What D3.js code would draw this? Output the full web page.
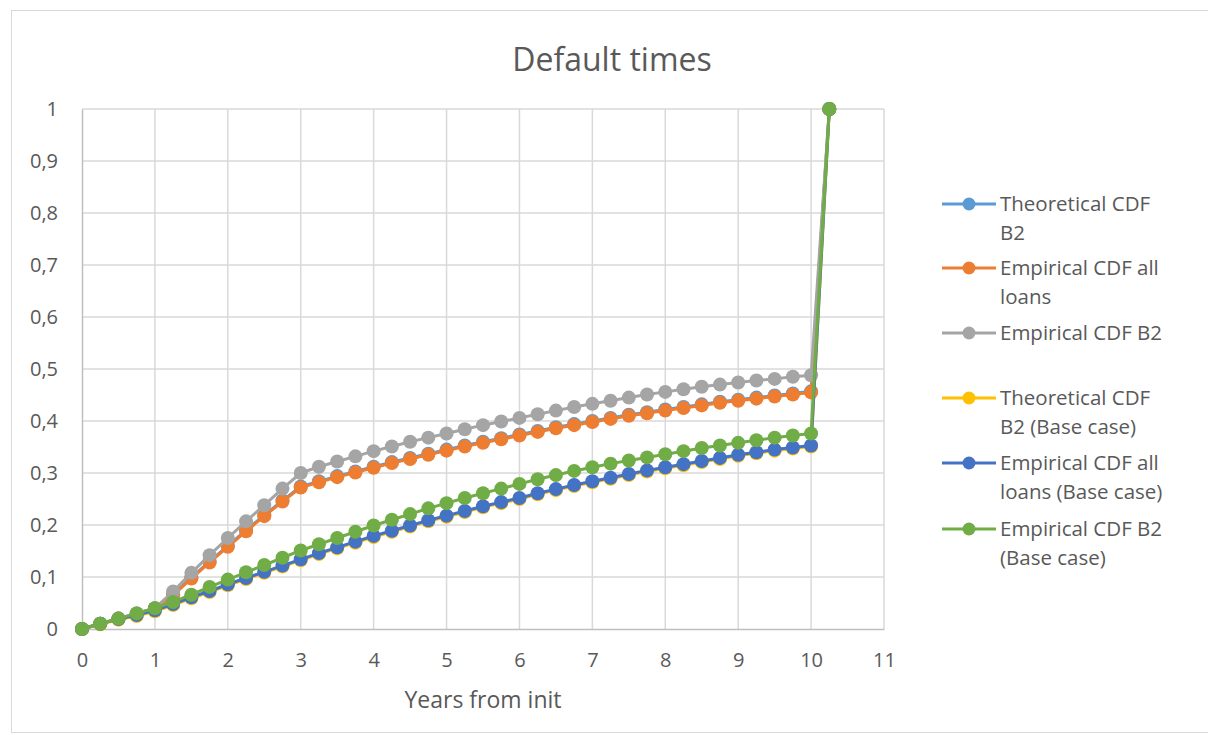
<!DOCTYPE html>
<html><head><meta charset="utf-8">
<script src="https://cdn.jsdelivr.net/npm/d3@7"></script>
<style>body{margin:0;background:#fff;}svg{display:block;font-family:"Open Sans",sans-serif;}</style>
</head><body>
<svg id="c" width="1208" height="735"></svg>
<script>
const years = [0,0.25,0.5,0.75,1,1.25,1.5,1.75,2,2.25,2.5,2.75,3,3.25,3.5,3.75,4,4.25,4.5,4.75,5,5.25,5.5,5.75,6,6.25,6.5,6.75,7,7.25,7.5,7.75,8,8.25,8.5,8.75,9,9.25,9.5,9.75,10,10.25];
const theoreticalB2 = [0,0.01,0.02,0.03,0.04,0.067,0.099,0.13,0.16,0.19,0.219,0.247,0.274,0.284,0.294,0.303,0.312,0.321,0.329,0.337,0.345,0.353,0.36,0.367,0.374,0.381,0.388,0.394,0.4,0.406,0.412,0.417,0.422,0.427,0.432,0.437,0.441,0.445,0.449,0.453,0.457,1];
const empiricalAll = [0,0.01,0.02,0.028,0.038,0.065,0.097,0.128,0.158,0.188,0.217,0.245,0.272,0.282,0.292,0.301,0.31,0.319,0.327,0.335,0.343,0.351,0.358,0.365,0.372,0.379,0.386,0.392,0.398,0.404,0.41,0.415,0.42,0.425,0.43,0.435,0.439,0.443,0.447,0.451,0.455,1];
const empiricalB2 = [0,0.01,0.02,0.03,0.04,0.072,0.108,0.142,0.175,0.207,0.238,0.27,0.3,0.312,0.322,0.332,0.342,0.351,0.36,0.368,0.376,0.384,0.392,0.399,0.406,0.413,0.42,0.427,0.433,0.439,0.445,0.451,0.456,0.461,0.466,0.47,0.474,0.478,0.481,0.485,0.488,1];
const theoreticalBase = [0,0.009,0.018,0.025,0.034,0.046,0.059,0.071,0.084,0.096,0.108,0.12,0.132,0.144,0.155,0.166,0.177,0.187,0.197,0.207,0.216,0.225,0.234,0.242,0.25,0.259,0.267,0.275,0.282,0.289,0.296,0.303,0.309,0.315,0.321,0.327,0.333,0.338,0.343,0.347,0.351,1];
const empiricalAllBase = [0,0.01,0.019,0.027,0.036,0.048,0.061,0.073,0.086,0.098,0.11,0.122,0.134,0.146,0.157,0.168,0.179,0.189,0.199,0.209,0.218,0.227,0.236,0.244,0.252,0.261,0.269,0.277,0.284,0.291,0.298,0.305,0.311,0.317,0.323,0.329,0.335,0.34,0.345,0.349,0.353,1];
const empiricalB2Base = [0,0.01,0.02,0.03,0.04,0.052,0.066,0.081,0.095,0.109,0.123,0.137,0.151,0.163,0.175,0.187,0.199,0.21,0.221,0.232,0.242,0.252,0.261,0.27,0.279,0.288,0.296,0.304,0.311,0.318,0.324,0.33,0.336,0.342,0.348,0.353,0.358,0.363,0.368,0.372,0.376,1];
const seriesNames = [["Theoretical CDF","B2"],["Empirical CDF all","loans"],["Empirical CDF B2"],["Theoretical CDF","B2 (Base case)"],["Empirical CDF all","loans (Base case)"],["Empirical CDF B2","(Base case)"]];
const seriesColors = ["#5b9bd5","#ed7d31","#a5a5a5","#ffc000","#4472c4","#70ad47"];
const xTicks = [0,1,2,3,4,5,6,7,8,9,10,11];
const yTicks = [0,0.1,0.2,0.3,0.4,0.5,0.6,0.7,0.8,0.9,1];
const title = "Default times";
const xTitle = "Years from init";

const allSeries = [theoreticalB2, empiricalAll, empiricalB2, theoreticalBase, empiricalAllBase, empiricalB2Base];
const svg = d3.select("#c");
const m = {l:82, r:884, t:109, b:629};
const x = d3.scaleLinear().domain([0,11]).range([m.l, m.r]);
const y = d3.scaleLinear().domain([0,1]).range([m.b, m.t]);
const textColor = "#595959";
const fontFam = "'Open Sans', sans-serif";

svg.append("rect").attr("x",11.5).attr("y",10.5).attr("width",1210).attr("height",722)
  .attr("fill","#fff").attr("stroke","#d9d9d9");

// grid
svg.append("g").selectAll("line.v").data(xTicks.slice(1)).join("line")
  .attr("x1",d=>x(d)).attr("x2",d=>x(d)).attr("y1",m.t).attr("y2",m.b)
  .attr("stroke","#d9d9d9").attr("stroke-width",1.5);
svg.append("g").selectAll("line.h").data(yTicks.slice(1)).join("line")
  .attr("x1",m.l).attr("x2",m.r).attr("y1",d=>y(d)).attr("y2",d=>y(d))
  .attr("stroke","#d9d9d9").attr("stroke-width",1.5);

// axes
const fmt = d => String(+d.toFixed(1)).replace(".", ",");
const xAxis = svg.append("g").attr("transform",`translate(0,${m.b})`)
  .call(d3.axisBottom(x).tickValues(xTicks).tickSize(0).tickPadding(24).tickFormat(d=>d));
xAxis.select(".domain").attr("stroke","#bfbfbf").attr("stroke-width",1.5);
const yAxis = svg.append("g").attr("transform",`translate(${m.l},0)`)
  .call(d3.axisLeft(y).tickValues(yTicks).tickSize(0).tickPadding(24).tickFormat(fmt));
yAxis.select(".domain").attr("stroke","#bfbfbf").attr("stroke-width",1.5);
svg.selectAll(".tick text").attr("fill",textColor).style("font-size","20px").style("font-family",fontFam);
yAxis.selectAll(".tick text").attr("text-anchor","end");

// series
const line = d3.line().x((d,i)=>x(years[i])).y(d=>y(d));
allSeries.forEach((s,k)=>{
  const g = svg.append("g");
  g.append("path").datum(s).attr("d",line).attr("fill","none")
    .attr("stroke",seriesColors[k]).attr("stroke-width",3).attr("stroke-linejoin","round");
  g.selectAll("circle").data(s).join("circle")
    .attr("cx",(d,i)=>x(years[i])).attr("cy",d=>y(d)).attr("r",7)
    .attr("fill",seriesColors[k]);
});

// title
svg.append("text").attr("x",612).attr("y",71).attr("text-anchor","middle")
  .attr("fill",textColor).style("font-size","32px").text(title);
svg.append("text").attr("x",483).attr("y",708).attr("text-anchor","middle")
  .attr("fill",textColor).style("font-size","23px").text(xTitle);

// legend
const legY = [204,268,333,398,463,529];
seriesNames.forEach((nm,k)=>{
  const g = svg.append("g");
  g.append("line").attr("x1",942).attr("x2",996).attr("y1",legY[k]).attr("y2",legY[k])
    .attr("stroke",seriesColors[k]).attr("stroke-width",3);
  g.append("circle").attr("cx",969).attr("cy",legY[k]).attr("r",6.5).attr("fill",seriesColors[k]);
  nm.forEach((t,j)=>{
    g.append("text").attr("x",1000).attr("y",legY[k]+7+j*29).attr("fill",textColor)
      .style("font-size","20.5px").text(t);
  });
});
</script>
</body></html>
